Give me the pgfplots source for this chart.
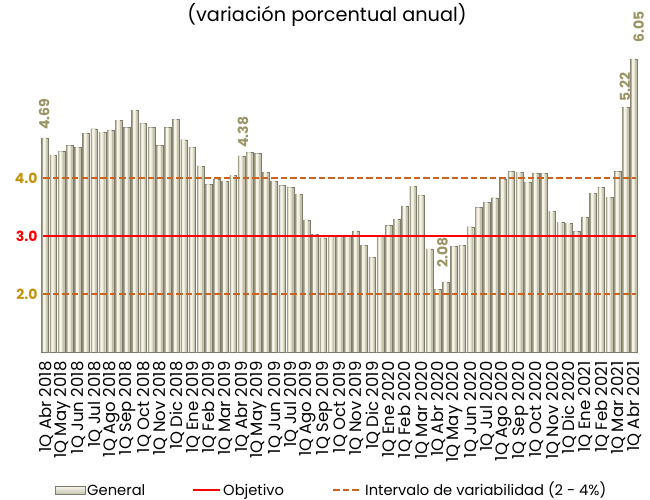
\documentclass[border=0pt]{standalone}
\usepackage{fontspec}
\setmainfont{Poppins}
\usepackage{pgfplots}
\usepackage{pgfplotstable}
\pgfplotsset{compat=1.18}
\definecolor{gold}{RGB}{196,148,8}
\definecolor{dashc}{RGB}{200,100,32}
\definecolor{olive}{RGB}{155,148,100}
\definecolor{bardark}{RGB}{125,123,108}
\definecolor{barmid}{RGB}{196,193,172}
\definecolor{barlight}{RGB}{234,231,212}
\definecolor{barhigh}{RGB}{248,246,236}
\definecolor{barleft}{RGB}{165,162,142}
\definecolor{axgray}{RGB}{160,160,160}
\pgfplotstableread{
x y
1 4.69
2 4.40
3 4.46
4 4.56
5 4.53
6 4.77
7 4.85
8 4.79
9 4.82
10 5.00
11 4.87
12 5.17
13 4.94
14 4.87
15 4.56
16 4.87
17 5.01
18 4.66
19 4.53
20 4.21
21 3.89
22 3.98
23 3.95
24 4.05
25 4.38
26 4.44
27 4.42
28 4.10
29 3.95
30 3.87
31 3.84
32 3.72
33 3.28
34 3.03
35 2.97
36 2.99
37 2.99
38 3.02
39 3.09
40 2.84
41 2.63
42 2.99
43 3.18
44 3.29
45 3.52
46 3.86
47 3.70
48 2.78
49 2.08
50 2.21
51 2.82
52 2.84
53 3.16
54 3.49
55 3.58
56 3.66
57 3.98
58 4.11
59 4.10
60 3.93
61 4.08
62 4.08
63 3.43
64 3.24
65 3.22
66 3.08
67 3.33
68 3.74
69 3.84
70 3.67
71 4.11
72 5.22
73 6.05
}\datatable
\begin{document}
\begin{tikzpicture}
\begin{axis}[
  at={(0,0)}, anchor=south west,
  scale only axis, width=597pt, height=336.4pt,
  xmin=0.5, xmax=73.5, ymin=1, ymax=6.8,
  clip=false,
  axis lines*=left,
  x axis line style={draw=axgray, line width=0.8pt},
  y axis line style={draw=none},
  ytick={2,3,4},
  yticklabels={\textcolor{gold}{\bfseries 2.0},\textcolor{red}{\bfseries 3.0},\textcolor{gold}{\bfseries 4.0}},
  ytick style={draw=none},
  yticklabel style={font=\fontsize{14}{14}\selectfont},
  xtick={1,3,...,73},
  xticklabels={1Q Abr 2018,1Q May 2018,1Q Jun 2018,1Q Jul 2018,1Q Ago 2018,1Q Sep 2018,1Q Oct 2018,1Q Nov 2018,1Q Dic 2018,1Q Ene 2019,1Q Feb 2019,1Q Mar 2019,1Q Abr 2019,1Q May 2019,1Q Jun 2019,1Q Jul 2019,1Q Ago 2019,1Q Sep 2019,1Q Oct 2019,1Q Nov 2019,1Q Dic 2019,1Q Ene 2020,1Q Feb 2020,1Q Mar 2020,1Q Abr 2020,1Q May 2020,1Q Jun 2020,1Q Jul 2020,1Q Ago 2020,1Q Sep 2020,1Q Oct 2020,1Q Nov 2020,1Q Dic 2020,1Q Ene 2021,1Q Feb 2021,1Q Mar 2021,1Q Abr 2021},
  xticklabel style={rotate=90, anchor=east, font=\fontsize{16.5}{16.5}\selectfont, xshift=-6pt, yshift=-1pt},
  major x tick style={draw=none},
  extra x ticks={0.5,3.5,...,72.5},
  extra x tick labels={},
  extra x tick style={tick align=outside, major tick length=5pt, tick style={draw=axgray, line width=0.8pt}},
]
\addplot[ybar, bar width=6.8pt, bar shift=0pt, fill=barmid, draw=bardark, line width=0.4pt]
  table[x=x, y=y] {\datatable};
\addplot[ybar, bar width=3.6pt, bar shift=-0.5pt, fill=barlight, draw=none] table[x=x, y=y] {\datatable};
\addplot[ybar, bar width=1.6pt, bar shift=-0.8pt, fill=barhigh, draw=none] table[x=x, y=y] {\datatable};
\addplot[ybar, bar width=1.1pt, bar shift=-2.75pt, fill=barleft, draw=none] table[x=x, y=y] {\datatable};
\addplot[red, line width=2.2pt, mark=none] coordinates {(0.8,3) (73.3,3)};
\addplot[dashc, line width=2pt, mark=none, dash pattern=on 6.5pt off 3pt] coordinates {(0.8,4) (73.3,4)};
\addplot[dashc, line width=2pt, mark=none, dash pattern=on 6.5pt off 3pt] coordinates {(0.8,2) (73.3,2)};
\begin{scope}[every node/.style={rotate=90, anchor=west, text=olive, font=\fontsize{14}{14}\selectfont\bfseries, inner sep=0pt}]
\node at (axis cs:0.9,4.83) {4.69};
\node at (axis cs:25.2,4.52) {4.38};
\node at (axis cs:49.6,2.45) {2.08};
\node at (axis cs:71.9,5.31) {5.22};
\node at (axis cs:73.6,6.34) {6.05};
\end{scope}
\end{axis}
\node[font=\fontsize{19.3}{19.3}\selectfont, anchor=center] at (286pt,337pt) {(variación porcentual anual)};
% legend
\begin{scope}[every node/.style={font=\fontsize{14.7}{14.7}\selectfont, anchor=base west, inner sep=0pt}]
\draw[draw=bardark, line width=0.3pt, top color=barhigh, bottom color=barmid] (14pt,-142.5pt) rectangle (44pt,-134pt);
\node at (46pt,-143.3pt) {General};
\draw[red, line width=2.2pt] (152pt,-138pt) -- (179pt,-138pt);
\node at (182pt,-143.3pt) {Objetivo};
\draw[dashc, line width=2pt, dash pattern=on 6.5pt off 3pt] (292pt,-138pt) -- (320pt,-138pt);
\node at (324pt,-143.3pt) {Intervalo de variabilidad (2 - 4\%)};
\end{scope}
\pgfresetboundingbox
\path[use as bounding box] (-41pt,-148pt) rectangle (609pt,352pt);
\end{tikzpicture}
\end{document}
